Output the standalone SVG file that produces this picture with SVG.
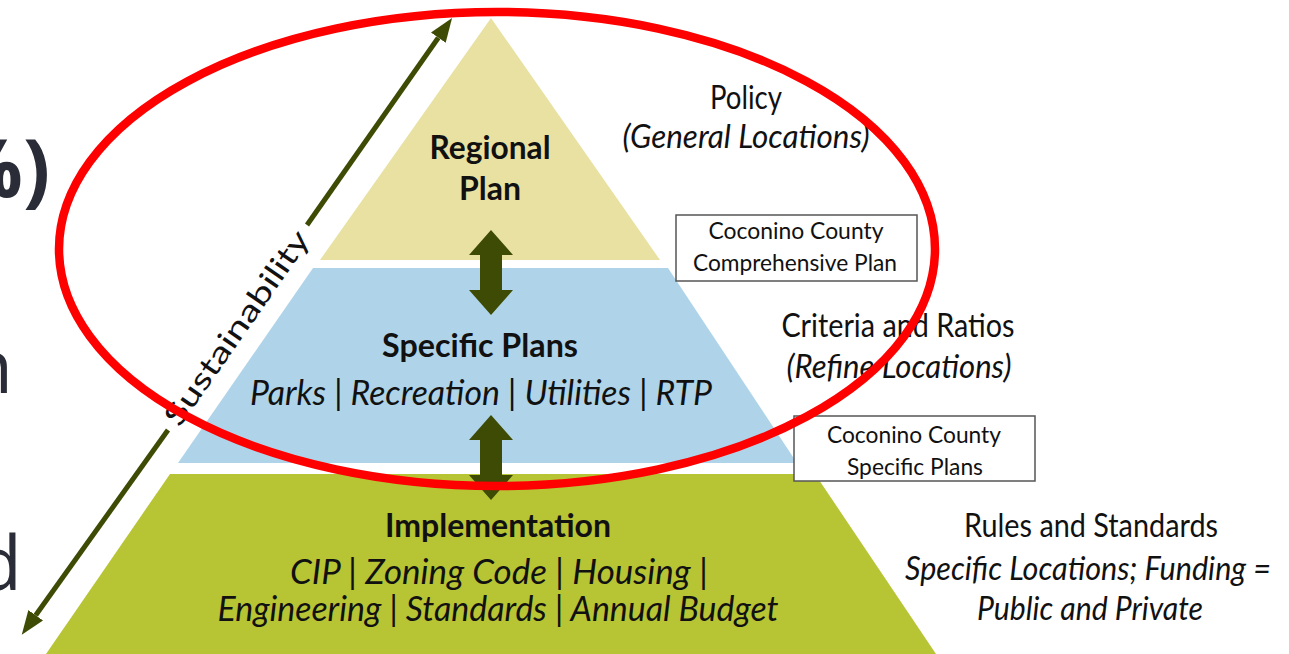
<svg xmlns="http://www.w3.org/2000/svg" width="1289" height="654" viewBox="0 0 1289 654">
  <defs>
    <style>
      .slide { font-family: "Open Sans", "Liberation Sans", sans-serif; fill: #2a2d37; }
      .lbl { font-family: Lato, "Open Sans", "Liberation Sans", sans-serif; fill: #111111; }
      .bold { font-weight: 700; font-size: 33px; }
      .ital { font-style: italic; font-size: 34px; }
      .side { font-size: 32px; }
      .box { fill: #ffffff; stroke: #555555; stroke-width: 1.5; }
      .boxt { font-size: 23px; }
      .dbl { fill: #3d4b04; }
      .sus { stroke: #3d4b04; stroke-width: 5; fill: none; marker-end: url(#head); }
    </style>
    <marker id="head" markerUnits="userSpaceOnUse" viewBox="0 0 24 18" refX="0" refY="9" markerWidth="24" markerHeight="18" orient="auto">
      <path d="M0,0 L24,9 L0,18 z" fill="#3d4b04"/>
    </marker>
  </defs>
  <rect width="1289" height="654" fill="#ffffff"/>

  <!-- cut-off slide text at left edge -->
  <text class="slide" x="50" y="197" font-size="80" font-weight="700" text-anchor="end">%)</text>
  <text class="slide" x="13" y="393" font-size="75" text-anchor="end">n</text>
  <text class="slide" x="22" y="590" font-size="75" text-anchor="end">d</text>

  <!-- pyramid levels -->
  <g id="regional-plan">
    <polygon points="491,18 660,260 320,260" fill="#e9e1a1"/>
    <text class="lbl bold" x="490" y="159" text-anchor="middle" textLength="121" lengthAdjust="spacingAndGlyphs">Regional</text>
    <text class="lbl bold" x="490" y="200" text-anchor="middle" textLength="62" lengthAdjust="spacingAndGlyphs">Plan</text>
  </g>
  <g id="specific-plans">
    <polygon points="313,268 668,268 797,463 178,463" fill="#afd4e9"/>
    <text class="lbl bold" x="480" y="357" text-anchor="middle" textLength="196" lengthAdjust="spacingAndGlyphs">Specific Plans</text>
    <text class="lbl ital" x="481" y="405" text-anchor="middle" textLength="462" lengthAdjust="spacingAndGlyphs">Parks | Recreation | Utilities | RTP</text>
  </g>
  <g id="implementation">
    <polygon points="170,474 815,474 936,654 46,654" fill="#b7c434"/>
    <text class="lbl bold" x="498" y="537" text-anchor="middle" textLength="226" lengthAdjust="spacingAndGlyphs">Implementation</text>
    <text class="lbl ital" x="499" y="584" text-anchor="middle" textLength="418" lengthAdjust="spacingAndGlyphs">CIP | Zoning Code | Housing |</text>
    <text class="lbl ital" x="498" y="621" text-anchor="middle" textLength="561" lengthAdjust="spacingAndGlyphs">Engineering | Standards | Annual Budget</text>
  </g>

  <!-- side labels -->
  <g id="policy">
    <text class="lbl side" x="746" y="109" text-anchor="middle" textLength="72" lengthAdjust="spacingAndGlyphs">Policy</text>
    <text class="lbl side" x="746" y="148" font-style="italic" text-anchor="middle" textLength="247" lengthAdjust="spacingAndGlyphs">(General Locations)</text>
  </g>
  <g id="criteria">
    <text class="lbl side" x="898" y="337" text-anchor="middle" textLength="233" lengthAdjust="spacingAndGlyphs">Criteria and Ratios</text>
    <text class="lbl side" x="899" y="378" font-style="italic" text-anchor="middle" textLength="225" lengthAdjust="spacingAndGlyphs">(Refine Locations)</text>
  </g>
  <g id="rules">
    <text class="lbl side" x="1091" y="537" text-anchor="middle" textLength="254" lengthAdjust="spacingAndGlyphs">Rules and Standards</text>
    <text class="lbl side" x="1088" y="580" font-style="italic" text-anchor="middle" textLength="366" lengthAdjust="spacingAndGlyphs">Specific Locations; Funding =</text>
    <text class="lbl side" x="1090" y="620" font-style="italic" text-anchor="middle" textLength="226" lengthAdjust="spacingAndGlyphs">Public and Private</text>
  </g>
  <g id="box-comprehensive">
    <rect class="box" x="676" y="215" width="241" height="66"/>
    <text class="lbl boxt" x="796" y="239" text-anchor="middle" textLength="175" lengthAdjust="spacingAndGlyphs">Coconino County</text>
    <text class="lbl boxt" x="795" y="271" text-anchor="middle" textLength="204" lengthAdjust="spacingAndGlyphs">Comprehensive Plan</text>
  </g>
  <g id="box-specific">
    <rect class="box" x="794" y="416" width="241" height="65"/>
    <text class="lbl boxt" x="914" y="443" text-anchor="middle" textLength="174" lengthAdjust="spacingAndGlyphs">Coconino County</text>
    <text class="lbl boxt" x="915" y="475" text-anchor="middle" textLength="136" lengthAdjust="spacingAndGlyphs">Specific Plans</text>
  </g>

  <!-- connectors -->
  <g id="connectors">
    <path class="dbl" d="M491,230 L513,255 L502,255 L502,290 L513,290 L491,315 L469,290 L480,290 L480,255 L469,255 Z"/>
    <path class="dbl" d="M491,415 L513,440 L502,440 L502,475 L513,475 L491,500 L469,475 L480,475 L480,440 L469,440 Z"/>
    <line class="sus" x1="307" y1="225" x2="438.3" y2="37.7"/>
    <line class="sus" x1="168" y1="430" x2="35.7" y2="615.3"/>
  </g>
  <g id="sustainability">
    <text class="lbl" x="237" y="338" font-size="30" text-anchor="middle" textLength="230" lengthAdjust="spacingAndGlyphs" transform="rotate(-55.2 237 328)">Sustainability</text>
  </g>

  <!-- red highlight ellipse -->
  <ellipse cx="497" cy="249" rx="438" ry="237" fill="none" stroke="#ff0000" stroke-width="8.5"/>
</svg>
